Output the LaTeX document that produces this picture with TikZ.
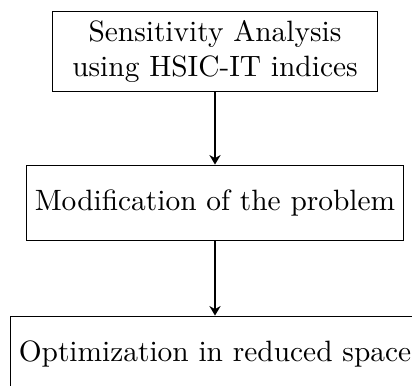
\documentclass[tikz,border=0pt]{standalone}
\usetikzlibrary{arrows.meta}
\begin{document}
\begin{tikzpicture}[x=0.357pt, y=-0.357pt,
  box/.style={draw, line width=0.35pt, align=center, inner sep=0pt, font=\fontsize{10.5}{12.6}\selectfont},
  link/.style={line width=0.8pt, -{Stealth[length=3.4pt, width=4pt]}}]
\useasboundingbox (0,0) rectangle (412,385);
\node[box, minimum width=115.7pt, minimum height=28.9pt] (sa) at (215,51.5) {Sensitivity Analysis\\using HSIC-IT indices};
\node[box, minimum width=134.3pt, minimum height=27.1pt] (mod) at (215,203) {Modification of the problem};
\node[box, minimum width=145.7pt, minimum height=27.1pt] (opt) at (215,354) {Optimization in reduced space};
\draw[link] (sa) -- (mod);
\draw[link] (mod) -- (opt);
\end{tikzpicture}
\end{document}
